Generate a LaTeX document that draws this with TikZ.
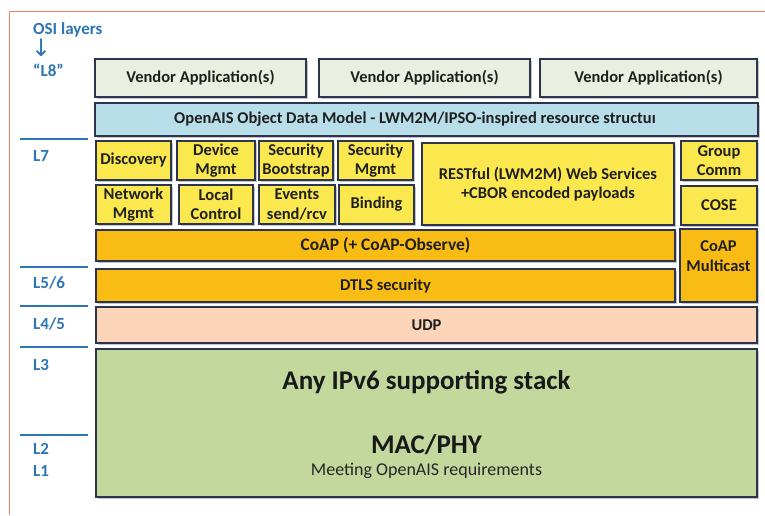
\documentclass[tikz,border=0pt]{standalone}
\usepackage{fontspec}
\setmainfont{Carlito}
\newfontfamily\arrowfont{DejaVu Sans}
\usepackage{tikz}
\usetikzlibrary{shadows}
\definecolor{layerblue}{HTML}{2E75B6}
\definecolor{framered}{HTML}{F4825E}
\definecolor{boxedge}{HTML}{2C3550}
\definecolor{vendorgrey}{HTML}{EBEFE2}
\definecolor{modelblue}{HTML}{B8DEEA}
\definecolor{svcyellow}{HTML}{FBE84E}
\definecolor{coaporange}{HTML}{F9BC14}
\definecolor{udppeach}{HTML}{FCD5B8}
\definecolor{stackgreen}{HTML}{C4D89D}
\tikzset{
  blk/.style={draw=boxedge, line width=1.2pt, text=black!88, align=center, inner sep=0pt,
    font=\bfseries\fontsize{16.5}{19.5}\selectfont,
    drop shadow={shadow xshift=1.6pt, shadow yshift=-1.6pt, opacity=0.45}},
  small/.style={blk, fill=svcyellow, minimum height=39pt},
  lyr/.style={text=layerblue, anchor=west, inner sep=0pt, font=\bfseries\fontsize{17}{20}\selectfont},
  lyrline/.style={layerblue, line width=1.2pt}
}

\begin{document}
\begin{tikzpicture}[x=1pt, y=-1pt]
\useasboundingbox (0,0) rectangle (765,515);
\fill[white] (0,0) rectangle (765,515);
\draw[framered, line width=1pt] (9,515) -- (9,11) -- (765,11);
% layer column
\node[lyr] (osi) at (33,30) {OSI layers};
\node[lyr, font=\arrowfont\fontsize{24}{26}\selectfont] (down) at (31,48) {↓};
\node[lyr] (l8) at (33,70) {“L8”};
\node[lyr] (l7) at (33,156) {L7};
\node[lyr] (l56) at (33,283) {L5/6};
\node[lyr] (l45) at (33,324) {L4/5};
\node[lyr] (l3) at (33,365) {L3};
\node[lyr] (l2) at (33,449) {L2};
\node[lyr] (l1) at (33,471) {L1};
\foreach \y in {139,267,306,347,435}
  \draw[lyrline] (20,\y) -- (88,\y);
% application layer
\node[blk, fill=vendorgrey, minimum width=211pt, minimum height=38pt] (ven1) at (200.5,78) {Vendor Application(s)};
\node[blk, fill=vendorgrey, minimum width=211pt, minimum height=38pt] (ven2) at (424.5,78) {Vendor Application(s)};
\node[blk, fill=vendorgrey, minimum width=217pt, minimum height=38pt] (ven3) at (648.5,78) {Vendor Application(s)};
\node[blk, fill=modelblue, minimum width=663pt, minimum height=33pt] (odm) at (426.5,119.5) {};
\node[text=black!88, font=\bfseries\fontsize{16.5}{19.5}\selectfont] (odmtxt) at (415,119.5) {OpenAIS Object Data Model - LWM2M/IPSO-inspired resource structuı};
\node[small, minimum width=75pt] (disc) at (133.5,160.5) {Discovery};
\node[small, minimum width=78pt] (devm) at (216,160.5) {Device\\Mgmt};
\node[small, minimum width=74pt] (secb) at (296,160.5) {Security\\Bootstrap};
\node[small, minimum width=75pt] (secm) at (375.5,160.5) {Security\\Mgmt};
\node[small, minimum width=75pt] (netm) at (133.5,204.5) {Network\\Mgmt};
\node[small, minimum width=74pt] (locc) at (216,204.5) {Local\\Control};
\node[small, minimum width=76pt] (evts) at (297,204.5) {Events\\send/rcv};
\node[small, minimum width=75pt] (bind) at (376.5,204.5) {Binding};
\node[blk, fill=svcyellow, minimum width=252pt, minimum height=82pt] (rest) at (548,184) {RESTful (LWM2M) Web Services\\+CBOR encoded payloads};
\node[small, minimum width=76pt] (grpc) at (719,160.5) {Group\\Comm};
\node[small, minimum width=76pt] (cose) at (719,205.5) {COSE};
% transport
\node[blk, fill=coaporange, minimum width=579pt, minimum height=31pt, font=\bfseries\fontsize{17.5}{20}\selectfont] (coap) at (385.5,245.5) {CoAP (+ CoAP-Observe)};
\node[blk, fill=coaporange, minimum width=579pt, minimum height=33pt] (dtls) at (385.5,285.5) {DTLS security};
\node[blk, fill=coaporange, minimum width=77pt, minimum height=73pt] (mcast) at (718.5,265.5) {};
\node[text=black!88, align=center, font=\bfseries\fontsize{16.5}{19.5}\selectfont] (mcasttxt) at (718.5,256) {CoAP\\Multicast};
\node[blk, fill=udppeach, minimum width=661pt, minimum height=36pt] (udp) at (426.5,325) {UDP};
\node[blk, fill=stackgreen, minimum width=661pt, minimum height=148pt] (stack) at (426.5,423) {};
\node[text=black!90, font=\bfseries\fontsize{27}{32}\selectfont] (ipv6) at (426.5,382) {Any IPv6 supporting stack};
\node[text=black!90, font=\bfseries\fontsize{27}{32}\selectfont] (macphy) at (426.5,445) {MAC/PHY};
\node[text=black!85, font=\fontsize{18}{21}\selectfont] (req) at (426.5,471) {Meeting OpenAIS requirements};
\end{tikzpicture}
\end{document}
